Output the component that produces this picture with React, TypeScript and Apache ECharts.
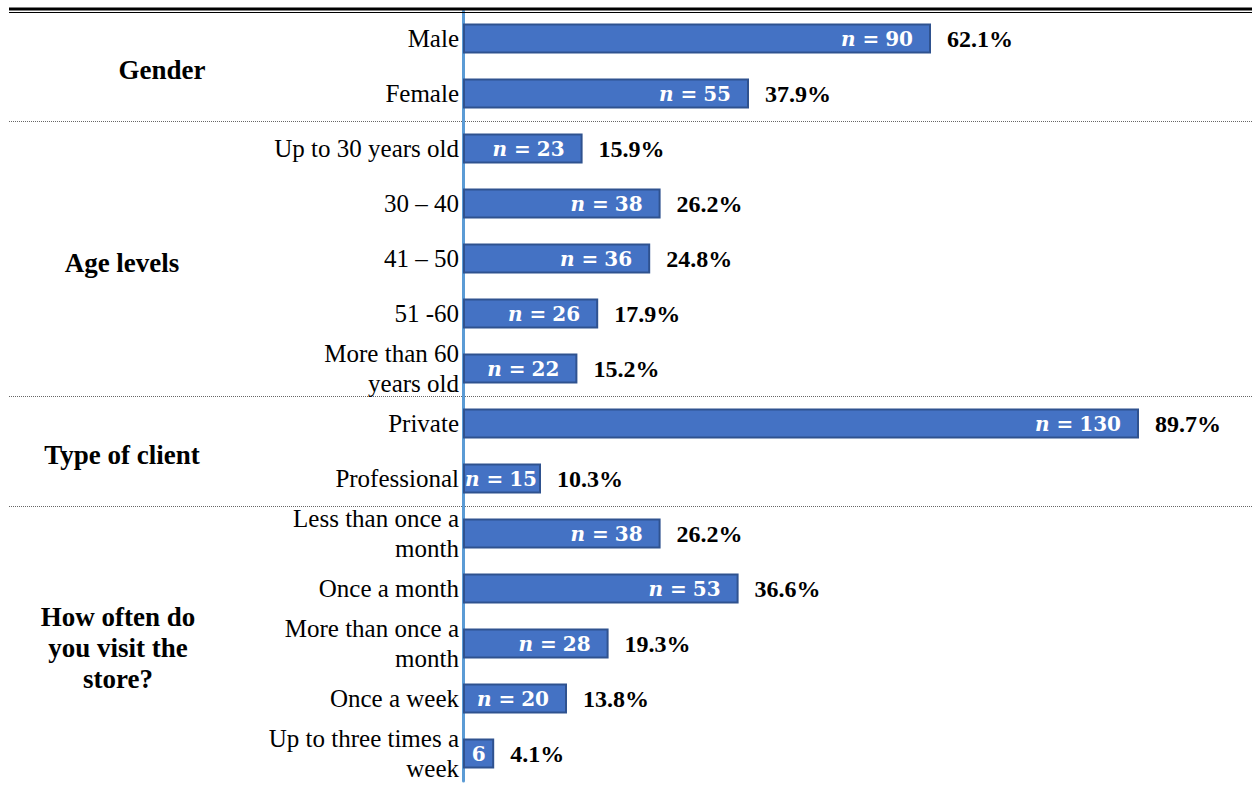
import React, { useEffect, useRef } from "react";
import * as echarts from "echarts";

const categories = [
  "Male",
  "Female",
  "Up to 30 years old",
  "30 – 40",
  "41 – 50",
  "51 -60",
  "More than 60\nyears old",
  "Private",
  "Professional",
  "Less than once a\nmonth",
  "Once a month",
  "More than once a\nmonth",
  "Once a week",
  "Up to three times a\nweek",
];
const counts = [90, 55, 23, 38, 36, 26, 22, 130, 15, 38, 53, 28, 20, 6];
const percents = [
  "62.1%", "37.9%", "15.9%", "26.2%", "24.8%", "17.9%", "15.2%",
  "89.7%", "10.3%", "26.2%", "36.6%", "19.3%", "13.8%", "4.1%",
];
const groups = ["Gender", "Age levels", "Type of client", "How often do\nyou visit the\nstore?"];
const groupFirst = [0, 2, 7, 9];
const groupLast = [1, 6, 8, 13];

// layout
const groupLabelX = [162, 122, 122, 118];
const W = 1252;
const H = 787;

export default function App() {
  const ref = useRef<HTMLDivElement>(null);

  useEffect(() => {
    if (!ref.current) return;
    const chart = echarts.init(ref.current, null, { renderer: "svg" });
    const serif = "Liberation Serif";
    const mathFont = "DejaVu Serif";
    chart.setOption({
      animation: false,
      grid: { left: 463, right: 9, top: 11, height: 770, containLabel: false },
      xAxis: {
        type: "value",
        min: 0,
        max: 150,
        show: false,
      },
      yAxis: {
        type: "category",
        inverse: true,
        data: categories,
        axisLine: { show: true, lineStyle: { color: "#5B9BD5", width: 3 } },
        axisTick: { show: false },
        splitLine: { show: false },
        axisLabel: {
          color: "#000",
          fontFamily: serif,
          fontSize: 25,
          lineHeight: 30,
          margin: 4,
          align: "right",
        },
      },
      series: [
        {
          type: "bar",
          barWidth: 30,
          barGap: "-100%",
          data: counts.map((v) => ({
            value: v,
            label:
              v < 10
                ? { position: "inside" }
                : v < 20
                ? { distance: 4 }
                : undefined,
          })),
          itemStyle: { color: "#4472C4", borderColor: "#2F528F", borderWidth: 2 },
          label: {
            show: true,
            position: "insideRight",
            distance: 18,
            formatter: (p: any) =>
              p.value < 10 ? `{v|${p.value}}` : `{n|n}{e|=}{v|${p.value}}`,
            rich: {
              n: {
                fontFamily: mathFont,
                fontStyle: "italic",
                fontWeight: "bold",
                fontSize: 20,
                color: "#fff",
              },
              e: {
                fontFamily: mathFont,
                fontWeight: "bold",
                fontSize: 20,
                color: "#fff",
                padding: [0, 6, 0, 7],
              },
              v: {
                fontFamily: mathFont,
                fontWeight: "bold",
                fontSize: 20,
                color: "#fff",
              },
            },
          },
          z: 3,
        },
        {
          type: "bar",
          barWidth: 30,
          barGap: "-100%",
          data: counts,
          itemStyle: { color: "rgba(0,0,0,0)" },
          label: {
            show: true,
            position: "right",
            distance: 16,
            formatter: (p: any) => percents[p.dataIndex],
            fontFamily: serif,
            fontWeight: "bold",
            fontSize: 24,
            color: "#000",
          },
          silent: true,
          z: 2,
        },
      ],
    });

    const yc = (i: number) => chart.convertToPixel({ yAxisIndex: 0 }, i) as number;
    const graphics: any[] = [
      {
        type: "line",
        shape: { x1: 9, y1: 9, x2: W, y2: 9 },
        style: { stroke: "#000", lineWidth: 3 },
        z: 10,
      },
      {
        type: "line",
        shape: { x1: 9, y1: 12.5, x2: W, y2: 12.5 },
        style: { stroke: "#000", lineWidth: 1 },
        z: 10,
      },
    ];
    for (let g = 0; g < groupLast.length - 1; g++) {
      const y = Math.round((yc(groupLast[g]) + yc(groupLast[g] + 1)) / 2) + 0.5;
      graphics.push({
        type: "line",
        shape: { x1: 9, y1: y, x2: W, y2: y },
        style: { stroke: "#666", lineWidth: 1, lineDash: [1, 1] },
        z: 0,
      });
    }
    groups.forEach((name, g) => {
      const y = (yc(groupFirst[g]) + yc(groupLast[g])) / 2 + 4;
      graphics.push({
        type: "text",
        x: groupLabelX[g],
        y,
        style: {
          text: name,
          fill: "#000",
          font: `bold 27px "${serif}"`,
          lineHeight: 31,
          textAlign: "center",
          textVerticalAlign: "middle",
        },
      });
    });
    chart.setOption({ graphic: graphics });

    return () => chart.dispose();
  }, []);

  return (
    <div
      ref={ref}
      style={{ position: "absolute", left: 0, top: 0, width: W, height: H, background: "#fff" }}
    />
  );
}
